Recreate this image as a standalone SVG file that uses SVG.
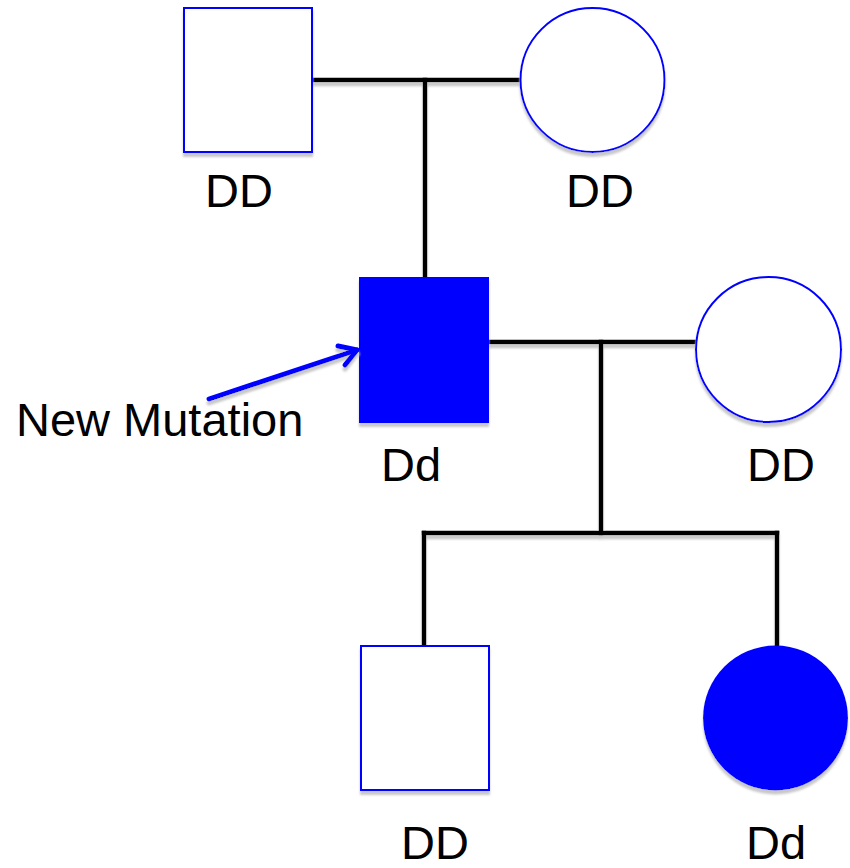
<svg xmlns="http://www.w3.org/2000/svg" width="850" height="868" viewBox="0 0 850 868">
  <defs>
    <filter id="shadow" x="-10%" y="-10%" width="120%" height="130%">
      <feOffset in="SourceAlpha" dx="0" dy="4" result="off"/>
      <feGaussianBlur in="off" stdDeviation="0.8" result="blur"/>
      <feFlood flood-color="#c8c8c8"/>
      <feComposite in2="blur" operator="in" result="sh"/>
      <feMerge>
        <feMergeNode in="sh"/>
        <feMergeNode in="SourceGraphic"/>
      </feMerge>
    </filter>
  </defs>
  <style>
    .open { fill: #ffffff; stroke: #0000ff; stroke-width: 2; }
    .filled { fill: #0000ff; stroke: none; }
    .line { fill: none; stroke: #000000; stroke-width: 4.5; stroke-linecap: square; }
    .label { font-family: "Liberation Sans", Arial, sans-serif; font-size: 47px; fill: #000000; }
    .arrow { fill: none; stroke: #0000ff; stroke-width: 5; stroke-linecap: round; stroke-linejoin: round; }
  </style>

  <!-- connectors -->
  <g id="connectors" filter="url(#shadow)">
    <path class="line" d="M312 80 H521"/>
    <path class="line" d="M425 80 V277"/>
    <path class="line" d="M489 342 H697"/>
    <path class="line" d="M601 342 V533"/>
    <path class="line" d="M424 533 H777"/>
    <path class="line" d="M424 533 V646"/>
    <path class="line" d="M777 533 V645"/>
  </g>

  <!-- generation I -->
  <g id="grandfather">
    <rect class="open" x="184" y="8" width="128" height="144" filter="url(#shadow)"/>
    <text class="label" x="239" y="207" text-anchor="middle">DD</text>
  </g>
  <g id="grandmother">
    <circle class="open" cx="592.5" cy="80" r="72" filter="url(#shadow)"/>
    <text class="label" x="600" y="207" text-anchor="middle">DD</text>
  </g>

  <!-- generation II -->
  <g id="father">
    <rect class="filled" x="359" y="277" width="130" height="146" filter="url(#shadow)"/>
    <text class="label" x="411" y="481" text-anchor="middle">Dd</text>
  </g>
  <g id="mother">
    <circle class="open" cx="768.5" cy="349.5" r="72.5" filter="url(#shadow)"/>
    <text class="label" x="781" y="481" text-anchor="middle">DD</text>
  </g>

  <!-- generation III -->
  <g id="son">
    <rect class="open" x="361" y="646" width="128" height="144" filter="url(#shadow)"/>
    <text class="label" x="435" y="859" text-anchor="middle">DD</text>
  </g>
  <g id="daughter">
    <circle class="filled" cx="775.5" cy="718" r="72.5" filter="url(#shadow)"/>
    <text class="label" x="776" y="859" text-anchor="middle">Dd</text>
  </g>

  <!-- annotation -->
  <g id="new-mutation">
    <g filter="url(#shadow)">
      <path class="arrow" d="M209 399 L357 350"/>
      <path class="arrow" d="M338 346 L357 350 L345 365"/>
    </g>
    <text class="label" x="16" y="436">New Mutation</text>
  </g>
</svg>
